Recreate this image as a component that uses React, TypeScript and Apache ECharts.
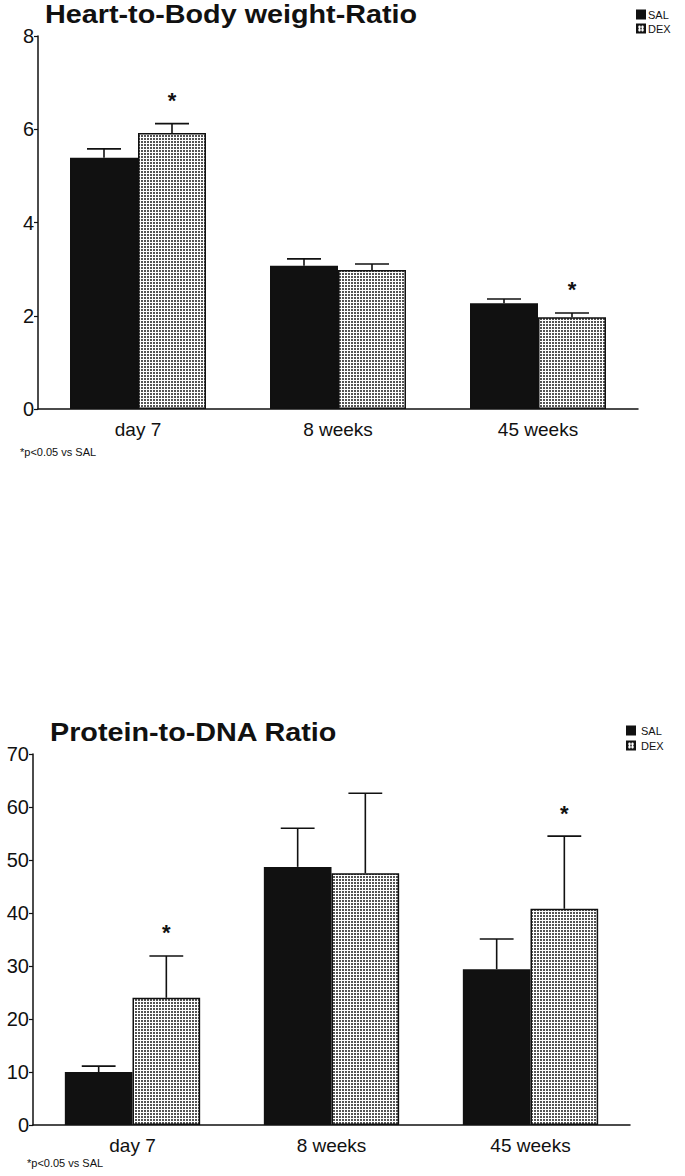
import React, { useEffect, useRef } from "react";
import * as echarts from "echarts";

const categories = ["day 7", "8 weeks", "45 weeks"];

// Heart-to-Body weight-Ratio
const heartSAL = [5.39, 3.07, 2.27];
const heartSALsem = [0.19, 0.15, 0.09];
const heartDEX = [5.92, 2.98, 1.97];
const heartDEXsem = [0.2, 0.13, 0.09];
const heartSALsig = [0, 0, 0];
const heartDEXsig = [1, 0, 1];

// Protein-to-DNA Ratio
const proteinSAL = [10.0, 48.7, 29.4];
const proteinSALsem = [1.1, 7.3, 5.7];
const proteinDEX = [24.0, 47.5, 40.8];
const proteinDEXsem = [7.9, 15.1, 13.7];
const proteinSALsig = [0, 0, 0];
const proteinDEXsig = [1, 0, 1];

const titles = ["Heart-to-Body weight-Ratio", "Protein-to-DNA Ratio"];
const footnote = "*p<0.05 vs SAL";
const seriesNames = ["SAL", "DEX"];

const FONT = "'Liberation Sans', Arial, Helvetica, sans-serif";
const INK = "#111111";
const CAT_FILL = 0.68;

function makePattern(): HTMLCanvasElement {
  const c = document.createElement("canvas");
  c.width = 3;
  c.height = 3;
  const ctx = c.getContext("2d")!;
  ctx.fillStyle = "#ffffff";
  ctx.fillRect(0, 0, 3, 3);
  ctx.fillStyle = "#555555";
  ctx.fillRect(0, 0, 2, 2);
  return c;
}

function errRender(side: number) {
  return (params: any, api: any) => {
    const cat = api.value(0);
    const mean = api.value(1);
    const upper = api.value(2);
    const sig = api.value(3);
    const base = api.coord([cat, mean]);
    const top = api.coord([cat, upper]);
    const catW = api.size([1, 0])[0];
    const barW = (catW * CAT_FILL) / 2;
    const x = base[0] + (side * barW) / 2;
    const cap = barW / 2;
    const st = { stroke: INK, lineWidth: 1.6 };
    const children: any[] = [
      { type: "line", shape: { x1: x, y1: base[1], x2: x, y2: top[1] }, style: st },
      { type: "line", shape: { x1: x - cap / 2, y1: top[1], x2: x + cap / 2, y2: top[1] }, style: st },
    ];
    if (sig) {
      children.push({
        type: "text",
        x,
        y: top[1] - 23,
        style: {
          text: "*",
          fontSize: 22,
          fontWeight: "bold",
          fontFamily: FONT,
          align: "center",
          verticalAlign: "middle",
          fill: INK,
        },
      });
    }
    return { type: "group", children };
  };
}

function errData(mean: number[], sem: number[], sig: number[]) {
  return mean.map((m, i) => [i, m, m + sem[i], sig[i]]);
}

export default function App() {
  const ref = useRef<HTMLDivElement>(null);
  useEffect(() => {
    if (!ref.current) return;
    const chart = echarts.init(ref.current, undefined, { renderer: "svg" });
    const pattern = makePattern();
    const dexFill: any = { image: pattern, repeat: "repeat" };

    const grids = [
      { left: 38, top: 36, width: 600, height: 373 },
      { left: 33, top: 754, width: 597, height: 371 },
    ];
    const yCfg = [
      { max: 8, interval: 2 },
      { max: 70, interval: 10 },
    ];
    const sets = [
      { sal: heartSAL, salSem: heartSALsem, salSig: heartSALsig, dex: heartDEX, dexSem: heartDEXsem, dexSig: heartDEXsig },
      { sal: proteinSAL, salSem: proteinSALsem, salSig: proteinSALsig, dex: proteinDEX, dexSem: proteinDEXsem, dexSig: proteinDEXsig },
    ];

    const series: any[] = [];
    sets.forEach((s, gi) => {
      series.push({
        name: seriesNames[0],
        type: "bar",
        xAxisIndex: gi,
        yAxisIndex: gi,
        data: s.sal,
        barGap: "0%",
        barCategoryGap: "32%",
        itemStyle: { color: INK, borderColor: INK, borderWidth: 1.5 },
      });
      series.push({
        name: seriesNames[1],
        type: "bar",
        xAxisIndex: gi,
        yAxisIndex: gi,
        data: s.dex,
        barGap: "0%",
        barCategoryGap: "32%",
        itemStyle: { color: dexFill, borderColor: INK, borderWidth: 1.5 },
      });
      series.push({
        type: "custom",
        xAxisIndex: gi,
        yAxisIndex: gi,
        renderItem: errRender(-1),
        data: errData(s.sal, s.salSem, s.salSig),
        z: 5,
        silent: true,
      });
      series.push({
        type: "custom",
        xAxisIndex: gi,
        yAxisIndex: gi,
        renderItem: errRender(1),
        data: errData(s.dex, s.dexSem, s.dexSig),
        z: 5,
        silent: true,
      });
    });

    const titleStyle = (text: string) => ({
      text,
      fontSize: 25,
      fontWeight: "bold",
      fontFamily: FONT,
      fill: INK,
      align: "left",
      verticalAlign: "middle",
    });

    const option: any = {
      animation: false,
      backgroundColor: "#ffffff",
      textStyle: { fontFamily: FONT, color: INK },
      legend: [
        {
          data: seriesNames,
          orient: "vertical",
          left: 636,
          top: 9,
          padding: 0,
          itemWidth: 8,
          itemHeight: 8,
          itemGap: 3,
          icon: "rect",
          textStyle: { fontSize: 11, color: INK, fontFamily: FONT, padding: [0, 0, 0, -2] },
          selectedMode: false,
        },
        {
          data: seriesNames,
          orient: "vertical",
          left: 626,
          top: 725,
          padding: 0,
          itemWidth: 8,
          itemHeight: 8,
          itemGap: 4,
          icon: "rect",
          textStyle: { fontSize: 11, color: INK, fontFamily: FONT, padding: [0, 0, 0, 1] },
          selectedMode: false,
        },
      ],
      grid: grids,
      xAxis: grids.map((_, gi) => ({
        type: "category",
        gridIndex: gi,
        data: categories,
        axisLine: { show: true, lineStyle: { color: INK, width: 1.5 } },
        axisTick: { show: false },
        axisLabel: { fontSize: 19, color: INK, fontFamily: FONT, margin: 11 },
        splitLine: { show: false },
      })),
      yAxis: grids.map((_, gi) => ({
        type: "value",
        gridIndex: gi,
        min: 0,
        max: yCfg[gi].max,
        interval: yCfg[gi].interval,
        axisLine: { show: true, lineStyle: { color: INK, width: 1.5 } },
        axisTick: { show: true, inside: false, length: 4, lineStyle: { color: INK, width: 1.2 } },
        axisLabel: { fontSize: 20, color: INK, fontFamily: FONT, margin: 4 },
        splitLine: { show: false },
      })),
      graphic: [
        {
          type: "text",
          x: 45,
          y: 15,
          scaleX: 1.15,
          style: titleStyle(titles[0]),
        },
        {
          type: "text",
          x: 50,
          y: 733,
          scaleX: 1.15,
          style: titleStyle(titles[1]),
        },
        {
          type: "text",
          left: 20,
          top: 446,
          style: { text: footnote, fontSize: 11, fill: INK, fontFamily: FONT },
        },
        {
          type: "text",
          left: 27,
          top: 1157,
          style: { text: footnote, fontSize: 11, fill: INK, fontFamily: FONT },
        },
      ],
      series,
    };
    chart.setOption(option);
    return () => chart.dispose();
  }, []);
  return (
    <div
      ref={ref}
      style={{ position: "absolute", left: 0, top: 0, width: 685, height: 1176, background: "#fff" }}
    />
  );
}
